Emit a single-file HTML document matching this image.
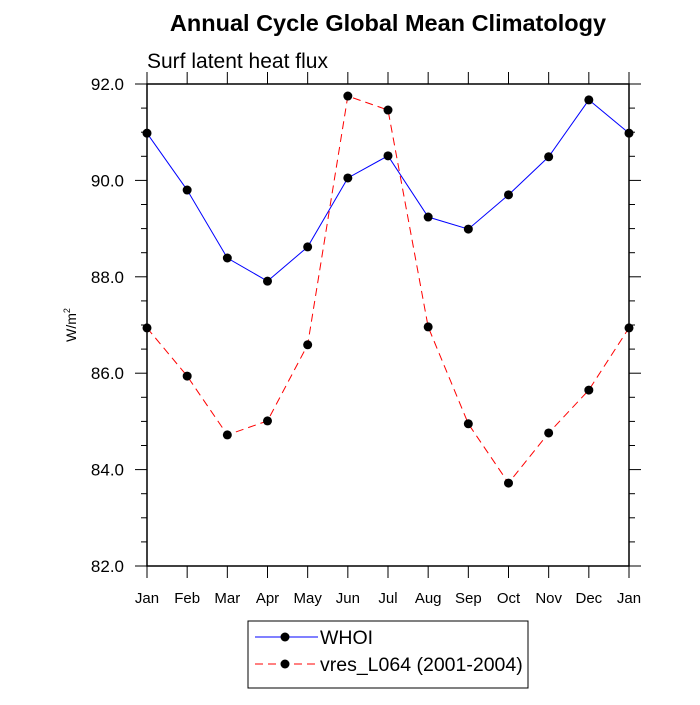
<!DOCTYPE html>
<html><head><meta charset="utf-8"><style>
body{margin:0;background:#fff}
svg text{font-family:"Liberation Sans",Arial,sans-serif}
</style></head><body>
<svg id="chart" width="700" height="700" viewBox="0 0 700 700">
<text x="388" y="31" text-anchor="middle" font-size="23.5" font-weight="bold">Annual Cycle Global Mean Climatology</text>
<text x="147" y="68" font-size="21">Surf latent heat flux</text>
<text transform="translate(76,325) rotate(-90)" text-anchor="middle" font-size="14">W/m<tspan font-size="9" dy="-6">2</tspan></text>
<g id="axes"></g>
<g id="series"></g>
<g>
<rect x="248" y="621" width="280" height="67" fill="#fff" stroke="#000" stroke-width="1"/>
<line x1="255" y1="637" x2="318" y2="637" stroke="#00f" stroke-width="1"/>
<circle cx="285" cy="637" r="4.5" fill="#000"/>
<text x="320" y="644" font-size="19.5">WHOI</text>
<line x1="255" y1="664" x2="318" y2="664" stroke="#f00" stroke-width="1" stroke-dasharray="8,5"/>
<circle cx="285" cy="664" r="4.5" fill="#000"/>
<text x="320" y="671" font-size="19.5">vres_L064 (2001-2004)</text>
</g>
</svg>
<script>
const months=["Jan","Feb","Mar","Apr","May","Jun","Jul","Aug","Sep","Oct","Nov","Dec","Jan"];
const whoi=[90.98,89.80,88.39,87.91,88.62,90.05,90.51,89.24,88.99,89.70,90.49,91.67,90.98];
const vres=[86.94,85.94,84.72,85.01,86.59,91.75,91.46,86.96,84.95,83.72,84.76,85.65,86.94];
const yTicks=["82.0","84.0","86.0","88.0","90.0","92.0"];
const X0=147,X1=629,Y0=566,Y1=84,YMIN=82,YMAX=92;
const sx=i=>X0+(X1-X0)*i/(months.length-1);
const sy=v=>Y0-(v-YMIN)/(YMAX-YMIN)*(Y0-Y1);
const NS="http://www.w3.org/2000/svg";
function mk(tag,attrs,parent){const e=document.createElementNS(NS,tag);for(const k in attrs)e.setAttribute(k,attrs[k]);parent.appendChild(e);return e;}
const ax=document.getElementById('axes');
const frame=mk('rect',{x:X0,y:Y1,width:X1-X0,height:Y0-Y1,fill:'none',stroke:'#000','stroke-width':1.5},ax);


months.forEach((m,i)=>{
  const x=sx(i);
  mk('line',{x1:x,y1:Y0,x2:x,y2:Y0+12,stroke:'#000','stroke-width':1},ax);
  mk('line',{x1:x,y1:Y1,x2:x,y2:Y1-12,stroke:'#000','stroke-width':1},ax);
  const t=mk('text',{x:x,y:603,'text-anchor':'middle','font-size':15},ax);
  t.textContent=m;
  
  
});
for(let v=YMIN;v<=YMAX+1e-9;v+=0.5){
  const y=sy(v),major=Math.abs(v/2-Math.round(v/2))<1e-6,len=major?12:6;
  mk('line',{x1:X0-len,y1:y,x2:X0,y2:y,stroke:'#000','stroke-width':1},ax);
  mk('line',{x1:X1,y1:y,x2:X1+len,y2:y,stroke:'#000','stroke-width':1},ax);
}
yTicks.forEach(s=>{
  const t=mk('text',{x:124,y:sy(parseFloat(s))+6,'text-anchor':'end','font-size':17},ax);
  t.textContent=s;
  
  
});
const sg=document.getElementById('series');
function draw(vals,color,dash,name){
  const g=mk('g',{},sg);
  
  
  const pts=vals.map((v,i)=>sx(i)+','+sy(v)).join(' ');
  const a={points:pts,fill:'none',stroke:color,'stroke-width':1};
  if(dash)a['stroke-dasharray']=dash;
  mk('polyline',a,g);
  vals.forEach((v,i)=>{
    const c=mk('circle',{cx:sx(i),cy:sy(v),r:4.5,fill:'#000'},g);
    
    
  });
}
draw(whoi,'#00f',null,'whoi-series');
draw(vres,'#f00','8,5','vres-series');
</script>
</body></html>
